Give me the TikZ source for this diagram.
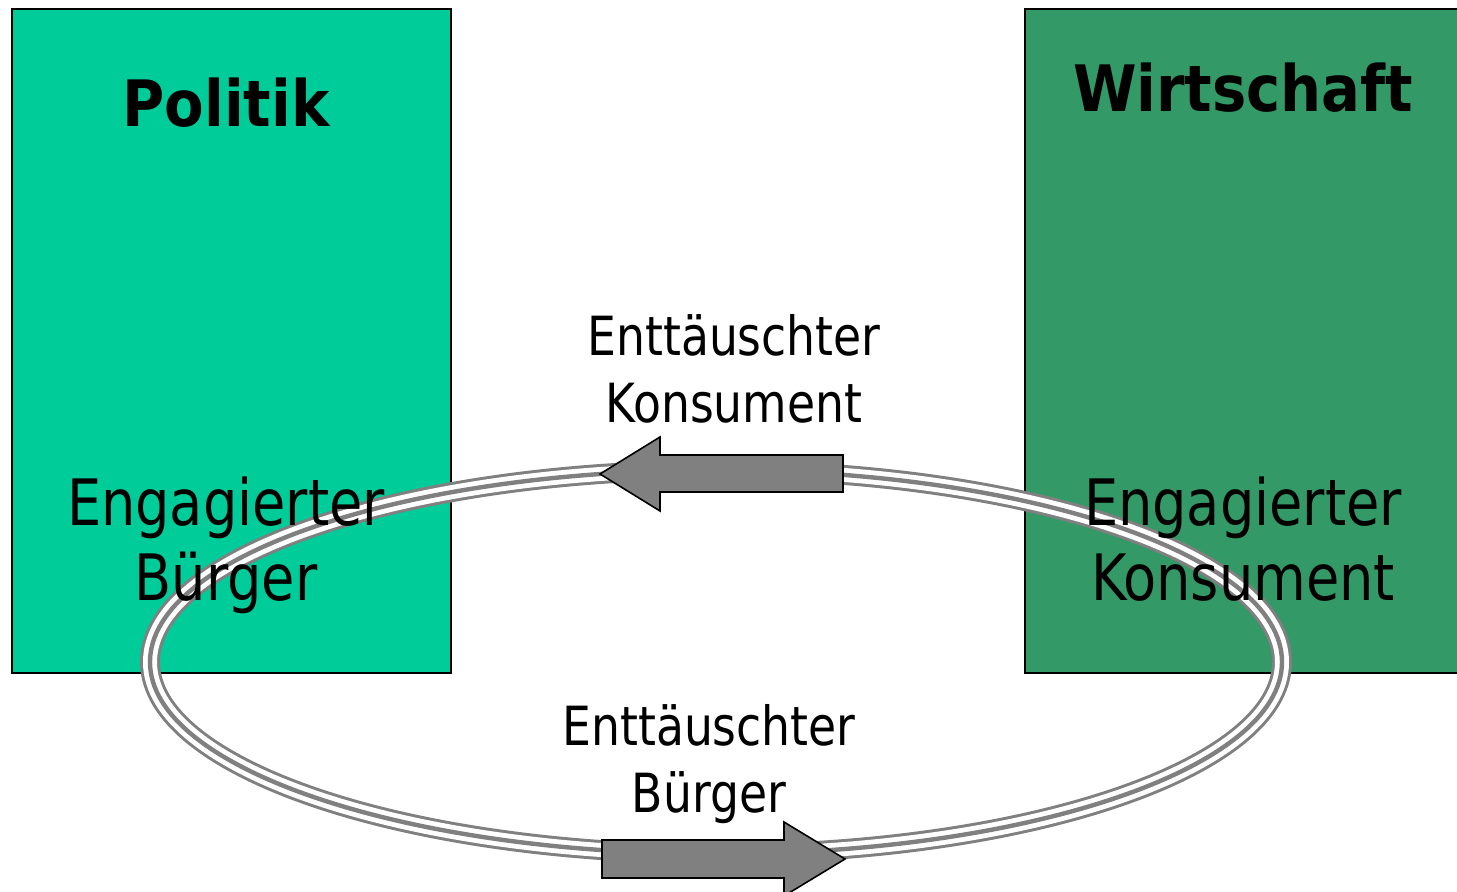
\documentclass[tikz,border=0pt]{standalone}
\usepackage{fontspec}
\newfontfamily\tahoma[FakeStretch=0.94]{DejaVu Sans Condensed}
\newfontfamily\tahomafett[FakeStretch=1.0]{DejaVu Sans Condensed}
\usetikzlibrary{positioning}

\definecolor{politikgruen}{RGB}{0,204,153}
\definecolor{wirtschaftgruen}{RGB}{51,153,102}
\definecolor{ringgrau}{RGB}{128,128,128}

\begin{document}
\begin{tikzpicture}[x=0.5pt, y=-0.5pt,
        feld/.style={rectangle, draw=black, line width=0.8pt, minimum width=#1, minimum height=332pt, inner sep=0pt},
        titel/.style={anchor=base, inner sep=0pt, font=\tahomafett\bfseries\fontsize{32}{37}\selectfont},
        rolle/.style={anchor=north, inner sep=0pt, align=center, font=\tahoma\fontsize{32}{37.5}\selectfont},
        wechsel/.style={anchor=north, inner sep=0pt, align=center, font=\tahoma\fontsize{27}{33.5}\selectfont},
        ring/.style={draw=ringgrau, line width=10pt,
            postaction={draw=white, line width=7pt},
            postaction={draw=ringgrau, line width=2.2pt}},
        pfeil/.style={draw=black, fill=ringgrau, line width=0.8pt, line join=miter}]

        \clip (0,0) rectangle (1457,892);

        % Felder
        \node [feld=219.5pt, fill=politikgruen] (politik) at (231.5,341) {};
        \node [feld=222.5pt, fill=wirtschaftgruen] (wirtschaft) at (1247.5,341) {};

        % Kreislauf
        \coordinate (mitte) at (716,662);
        \draw [ring] (mitte) ellipse [x radius=566, y radius=192];

        % Pfeile
        \path [pfeil] (600,474) -- (660,437) -- (660,455) -- (843,455) -- (843,492) -- (660,492) -- (660,511) -- cycle;
        \path [pfeil] (845,859) -- (784,822) -- (784,840) -- (602,840) -- (602,878) -- (784,878) -- (784,896) -- cycle;

        % Texte
        \node [titel] (politiktitel) at (226,127) {Politik};
        \node [titel] (wirtschafttitel) at (1243,112) {Wirtschaft};
        \node [rolle] (buerger) at (226,476) {Engagierter\\Bürger};
        \node [rolle] (konsument) at (1243,476) {Engagierter\\Konsument};
        \node [wechsel] (enttkonsument) at (734,314) {Enttäuschter\\Konsument};
        \node [wechsel] (enttbuerger) at (709,704) {Enttäuschter\\Bürger};
    \end{tikzpicture}
\end{document}
